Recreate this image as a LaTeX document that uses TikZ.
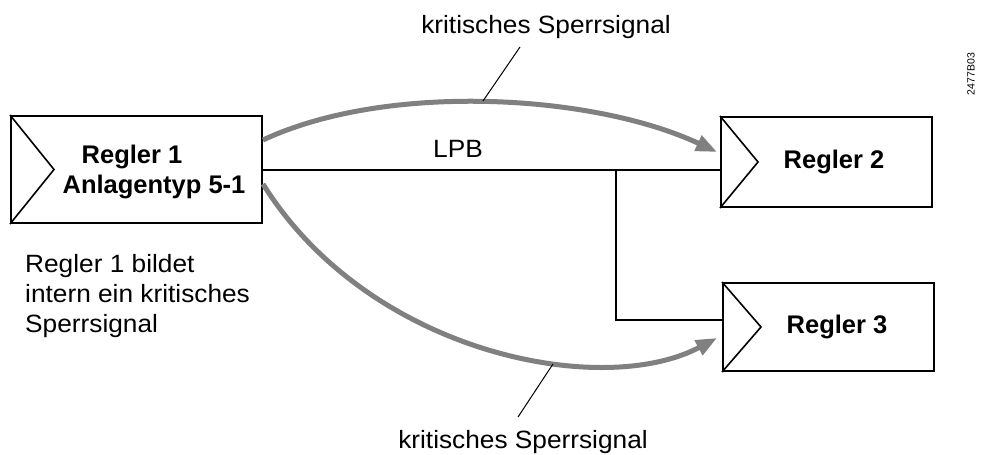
\documentclass[tikz,border=0pt]{standalone}
\usepackage{fontspec}
\setmainfont{Liberation Sans}
\newfontfamily\lblfont[FakeStretch=1.05]{Liberation Sans}
\usetikzlibrary{arrows.meta,calc}
\definecolor{siggray}{RGB}{128,128,128}
\begin{document}
\begin{tikzpicture}[x=1pt,y=-1pt,
  regler/.style={draw=black,line width=2pt,inner sep=0pt,fill=white},
  boxtext/.style={font=\fontsize{25.5}{30}\selectfont\bfseries,anchor=base,inner sep=0pt},
  lbl/.style={font=\lblfont\fontsize{25}{30}\selectfont,inner sep=0pt},
  bus/.style={draw=black,line width=2pt},
  signal/.style={draw=siggray,line width=5pt,
    -{Triangle[length=21pt,width=16pt]}},
  leader/.style={draw=black,line width=1pt}]
\useasboundingbox (0,0) rectangle (988,455);

% controller boxes
\node[regler,minimum width=251pt,minimum height=107pt] (r1) at (136.5,169.5) {};
\node[regler,minimum width=211pt,minimum height=90pt] (r2) at (826.5,162) {};
\node[regler,minimum width=211pt,minimum height=88pt] (r3) at (828.5,327) {};

% input triangles at the left edge of each box
\draw[line width=1.6pt] (r1.north west) -- ([xshift=44pt]r1.west) -- (r1.south west);
\draw[line width=1.6pt] (r2.north west) -- ([xshift=38pt]r2.west) -- (r2.south west);
\draw[line width=1.6pt] (r3.north west) -- ([xshift=39pt]r3.west) -- (r3.south west);

% box captions
\node[boxtext] (t1a) at (132,163) {Regler 1};
\node[boxtext] (t1b) at (154,193) {Anlagentyp 5-1};
\node[boxtext] (t2) at (834,168) {Regler 2};
\node[boxtext] (t3) at (837,333) {Regler 3};

% LPB bus
\coordinate (j) at (616,169.5);
\coordinate (b3) at (723,320);
\draw[bus] (r1.east) -- (r1.east -| r2.west);
\draw[bus] (j) |- (b3);
\node[lbl,anchor=base] (lpb) at (458,157) {LPB};

% critical lock signals
\coordinate (s1) at ([yshift=29.5pt]r1.east);
\coordinate (e1) at (717,152);
\coordinate (s2) at ([yshift=-14.5pt]r1.east);
\coordinate (e2) at (717,338);
\draw[signal] (s1) .. controls +(124,-58) and +(-124,-58) .. (e1);
\draw[signal] (s2) .. controls +(106,170) and +(-115,61) .. (e2);

% signal labels with leader lines
\node[lbl,anchor=base] (top) at (546,33) {kritisches Sperrsignal};
\node[lbl,anchor=base] (bot) at (523,448) {kritisches Sperrsignal};
\coordinate (u1) at (483,101);
\coordinate (u2) at (520,47);
\coordinate (l1) at (553,364);
\coordinate (l2) at (518,417);
\draw[leader] (u1) -- (u2);
\draw[leader] (l1) -- (l2);

% note below the first box (base anchor sits on the last line)
\node[lbl,anchor=base west,align=left] (note) at (25,332)
  {Regler 1 bildet\\intern ein kritisches\\Sperrsignal};

% drawing number
\node[font=\fontsize{10.5}{12}\selectfont,rotate=90,inner sep=0pt] (num) at (971,74) {2477B03};
\end{tikzpicture}
\end{document}
